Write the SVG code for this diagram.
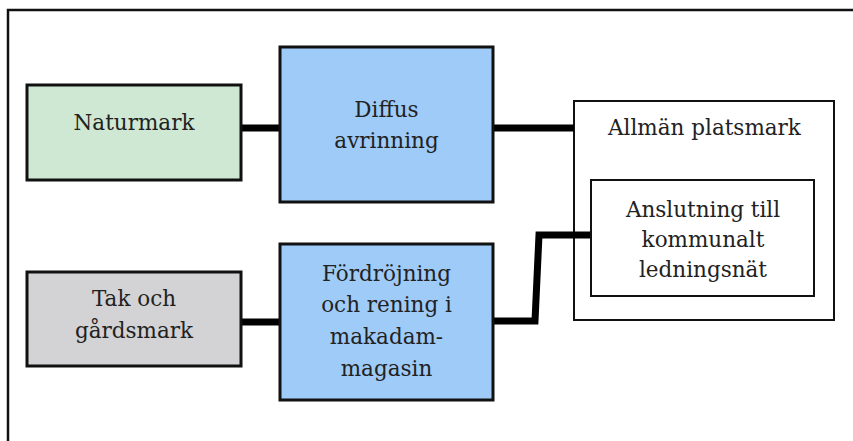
<svg xmlns="http://www.w3.org/2000/svg" width="853" height="441" viewBox="0 0 853 441">
  <style>
    .box { stroke: #111; stroke-width: 3; }
    .frame { fill: none; stroke: #111; stroke-width: 2.5; }
    .label { font-family: "DejaVu Serif", "Liberation Serif", serif; font-size: 21.5px; fill: #222; text-anchor: middle; }
    .wire { fill: none; stroke: #000; stroke-width: 7; stroke-linejoin: miter; }
  </style>

  <rect width="853" height="441" fill="#ffffff"/>

  <!-- outer border (top and left edges) -->
  <path class="frame" d="M8 441 V10 H853"/>

  <g id="allman-platsmark">
    <rect x="574" y="101" width="260" height="219" fill="none" stroke="#111" stroke-width="2"/>
    <text class="label" x="704.5" y="135">Allmän platsmark</text>
  </g>

  <g id="connectors">
    <path class="wire" d="M241 128 H280"/>
    <path class="wire" d="M241 322 H280"/>
    <path class="wire" d="M493 128 H574"/>
    <path class="wire" d="M493 321 H535 L539 235 H591"/>
  </g>

  <g id="naturmark">
    <rect class="box" x="27" y="85" width="214" height="95" fill="#cfe8d3"/>
    <text class="label" x="134" y="130">Naturmark</text>
  </g>

  <g id="diffus-avrinning">
    <rect class="box" x="280" y="47" width="213" height="155" fill="#9fcbf9"/>
    <text class="label" x="386.5" y="117">Diffus</text>
    <text class="label" x="386.5" y="148">avrinning</text>
  </g>

  <g id="tak-och-gardsmark">
    <rect class="box" x="27" y="272" width="214" height="94" fill="#d3d2d4"/>
    <text class="label" x="134" y="306">Tak och</text>
    <text class="label" x="134" y="338">gårdsmark</text>
  </g>

  <g id="fordrojning">
    <rect class="box" x="280" y="244" width="213" height="156" fill="#9fcbf9"/>
    <text class="label" x="386.5" y="281">Fördröjning</text>
    <text class="label" x="386.5" y="312">och rening i</text>
    <text class="label" x="386.5" y="344">makadam-</text>
    <text class="label" x="386.5" y="376">magasin</text>
  </g>

  <g id="anslutning">
    <rect x="591" y="180" width="223" height="116" fill="#ffffff" stroke="#111" stroke-width="2"/>
    <text class="label" x="703" y="217">Anslutning till</text>
    <text class="label" x="703" y="247">kommunalt</text>
    <text class="label" x="703" y="277">ledningsnät</text>
  </g>
</svg>
